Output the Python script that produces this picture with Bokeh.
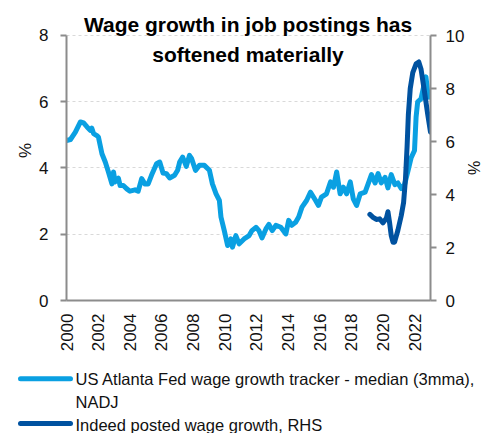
import math
from bokeh.plotting import figure
from bokeh.layouts import column, row
from bokeh.models import Range1d, LinearAxis, FixedTicker, Label
from bokeh.core.properties import value
from bokeh.embed import file_html
from bokeh.resources import INLINE

# ---- data ----
atl_year = [2000.0, 2000.25, 2000.56, 2000.88, 2001.08, 2001.3, 2001.5, 2001.6, 2001.71, 2001.92,
            2002.02, 2002.24, 2002.45, 2002.65, 2002.87, 2002.97, 2003.07, 2003.28, 2003.39, 2003.59,
            2003.81, 2004.01, 2004.33, 2004.53, 2004.75, 2004.95, 2005.16, 2005.37, 2005.69, 2005.89,
            2006.1, 2006.31, 2006.52, 2006.83, 2007.02, 2007.15, 2007.34, 2007.57, 2007.77, 2007.9,
            2008.15, 2008.4, 2008.71, 2009.03, 2009.22, 2009.45, 2009.66, 2009.76, 2009.97, 2010.18,
            2010.39, 2010.49, 2010.7, 2010.91, 2011.22, 2011.54, 2011.72, 2011.97, 2012.16, 2012.35,
            2012.6, 2012.79, 2013.0, 2013.23, 2013.54, 2013.86, 2014.04, 2014.23, 2014.48, 2014.67,
            2014.88, 2015.17, 2015.42, 2015.74, 2015.92, 2016.11, 2016.43, 2016.68, 2016.87, 2017.07,
            2017.29, 2017.49, 2017.7, 2017.93, 2018.12, 2018.33, 2018.56, 2018.87, 2019.06, 2019.27,
            2019.5, 2019.69, 2019.89, 2020.13, 2020.31, 2020.52, 2020.75, 2020.94, 2021.15, 2021.36,
            2021.57, 2021.77, 2021.99, 2022.09, 2022.19, 2022.4, 2022.61, 2022.71, 2022.82, 2022.92,
            2023.0]
atl_value = [4.83, 4.86, 5.08, 5.39, 5.36, 5.24, 5.14, 5.2, 5.04, 4.98,
             4.93, 4.43, 4.18, 3.88, 3.52, 3.88, 3.58, 3.69, 3.47, 3.47,
             3.37, 3.3, 3.34, 3.3, 3.68, 3.52, 3.52, 3.78, 4.13, 4.18,
             3.85, 3.83, 3.7, 3.78, 3.93, 4.18, 4.33, 4.05, 4.38, 4.29,
             3.93, 4.08, 4.08, 3.93, 3.52, 3.22, 3.02, 2.52, 2.11, 1.66,
             1.86, 1.61, 1.96, 1.71, 1.86, 1.96, 2.11, 2.21, 2.11, 1.89,
             2.16, 2.3, 2.11, 2.27, 2.21, 2.01, 2.42, 2.27, 2.36, 2.52,
             2.82, 3.02, 3.27, 3.02, 2.87, 3.12, 3.22, 3.58, 3.42, 3.88,
             3.22, 3.42, 3.22, 3.58, 3.07, 2.87, 3.22, 3.27, 3.52, 3.8,
             3.55, 3.83, 3.55, 3.72, 3.4, 3.8, 3.5, 3.55, 3.38, 3.5,
             3.9, 4.3, 4.53, 5.54, 6.0, 6.09, 6.55, 6.75, 6.3, 6.14,
             6.2]

indeed_year = [2019.17, 2019.37, 2019.58, 2019.79, 2020.0, 2020.21, 2020.31, 2020.41, 2020.52, 2020.63,
               2020.73, 2020.94, 2021.15, 2021.3, 2021.42, 2021.52, 2021.6, 2021.72, 2021.88, 2022.09,
               2022.26, 2022.4, 2022.61, 2022.82, 2023.0]
indeed_value = [3.25, 3.14, 3.06, 3.08, 2.93, 3.1, 3.35, 2.96, 2.45, 2.2,
                2.2, 2.65, 3.2, 3.7, 4.6, 5.8, 7.0, 8.0, 8.6, 8.93,
                9.0, 8.74, 7.92, 7.04, 6.35]

x_ticks = [2000, 2002, 2004, 2006, 2008, 2010, 2012, 2014, 2016, 2018, 2020, 2022]
left_ticks = [0, 2, 4, 6, 8]
right_ticks = [0, 2, 4, 6, 8, 10]

title_lines = ["Wage growth in job postings has", "softened materially"]
axis_unit = "%"
series_names = ["US Atlanta Fed wage growth tracker - median (3mma),\nNADJ",
                "Indeed posted wage growth, RHS"]

LIGHT = "#0AA0E2"
DARK = "#0052A0"
FONT = "Liberation Sans"
AXIS_GREY = "#8C8C8C"
TXT = "#111111"

# ---- main chart ----
p = figure(width=467, height=366, output_backend="svg", toolbar_location=None, title=None,
           x_range=Range1d(2000, 2023), y_range=Range1d(0, 9.0566),
           min_border_left=66, min_border_right=34, min_border_top=0, min_border_bottom=66)
p.frame_align = False
p.extra_y_ranges = {"rhs": Range1d(0, 11.321)}
p.outline_line_color = None

r1 = p.line(atl_year, atl_value, line_color=LIGHT, line_width=5, line_join="round", line_cap="round")
r2 = p.line(indeed_year, indeed_value, line_color=DARK, line_width=5, line_join="round",
            line_cap="round", y_range_name="rhs")

def style_axis(ax):
    ax.axis_line_color = AXIS_GREY
    ax.axis_line_width = 2
    ax.major_tick_line_color = AXIS_GREY
    ax.major_tick_line_width = 2
    ax.major_tick_out = 6
    ax.major_tick_in = 0
    ax.minor_tick_line_color = None
    ax.major_label_text_font = FONT
    ax.major_label_text_font_size = "17px"
    ax.major_label_text_color = TXT
    ax.major_label_standoff = 12
    ax.axis_label_text_font = FONT
    ax.axis_label_text_font_size = "17px"
    ax.axis_label_text_font_style = "normal"
    ax.axis_label_text_color = TXT

xa = p.xaxis[0]
style_axis(xa)
xa.ticker = FixedTicker(ticks=x_ticks)
xa.major_tick_line_color = None
xa.major_tick_out = 0
xa.major_label_orientation = math.pi / 2
xa.major_label_standoff = 13

ya = p.yaxis[0]
style_axis(ya)
ya.ticker = FixedTicker(ticks=left_ticks)
ya.bounds = (0, 8)
ya.axis_label = axis_unit
ya.axis_label_standoff = 1

ra = LinearAxis(y_range_name="rhs", ticker=FixedTicker(ticks=right_ticks), bounds=(0, 10))
style_axis(ra)
ra.major_label_standoff = 9
p.add_layout(ra, "right")

p.xgrid.grid_line_color = None
p.ygrid.ticker = FixedTicker(ticks=left_ticks)
p.ygrid.grid_line_color = "#D9D9D9"
p.ygrid.grid_line_dash = "3 3"
p.ygrid.grid_line_width = 1

for txt, yy in zip(title_lines, [8.33, 7.425]):
    p.add_layout(Label(x=2011.47, y=yy, text=txt, text_align="center", text_baseline="alphabetic",
                       text_font=FONT, text_font_size="21px", text_font_style="bold",
                       text_color="#000000"))

# ---- right-hand axis title strip ----
r = figure(width=16, height=366, output_backend="svg", toolbar_location=None, title=None,
           x_range=Range1d(0, 1), y_range=p.y_range,
           min_border_left=0, min_border_right=0, min_border_top=0, min_border_bottom=66,
           x_axis_type=None, y_axis_type=None)
r.frame_align = False
r.outline_line_color = None
r.xgrid.visible = False
r.ygrid.visible = False
r.text(x=[0.45], y=[4.0], text=[axis_unit], angle=math.pi / 2,
       text_font=value(FONT), text_font_size="16px", text_color=TXT,
       text_align="center", text_baseline="middle")

# ---- legend strip (key below the chart) ----
q = figure(width=483, height=67, output_backend="svg", toolbar_location=None, title=None,
           x_range=Range1d(0, 483), y_range=Range1d(67, 0),
           min_border_left=0, min_border_right=0, min_border_top=0, min_border_bottom=0,
           x_axis_type=None, y_axis_type=None)
q.frame_align = False
q.outline_line_color = None
q.xgrid.visible = False
q.ygrid.visible = False

key_colors = [LIGHT, DARK]
key_rows = [12.3, 57.0]
q.segment(x0=[20, 20], y0=key_rows, x1=[70, 70], y1=key_rows,
          line_color=key_colors, line_width=5, line_cap="round")

label_lines = series_names[0].split("\n") + [series_names[1]]
label_rows = [12.0, 35.7, 58.0]
q.text(x=[75, 75, 75], y=label_rows, text=label_lines,
       text_font=value(FONT), text_font_size="16.5px", text_color=TXT,
       text_align="left", text_baseline="middle")

layout = column(row(p, r, spacing=0), q, spacing=0)
open("out.html", "w").write(file_html(layout, INLINE))
